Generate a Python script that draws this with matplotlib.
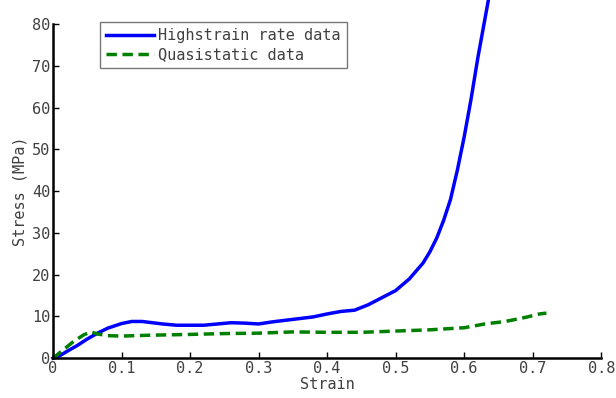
import matplotlib
matplotlib.use('Agg')
import matplotlib.pyplot as plt

# highstrain rate data
hs_strain = [0.0, 0.01, 0.02, 0.035, 0.05, 0.065, 0.08, 0.1, 0.115, 0.13, 0.145, 0.16, 0.18,
             0.2, 0.22, 0.24, 0.26, 0.28, 0.3, 0.32, 0.34, 0.36, 0.38, 0.4, 0.42, 0.44,
             0.46, 0.48, 0.5, 0.52, 0.54, 0.55, 0.56, 0.57, 0.58, 0.59, 0.6,
             0.61, 0.62, 0.63, 0.64]
hs_stress = [0.0, 0.6, 1.6, 3.0, 4.6, 6.0, 7.2, 8.3, 8.8, 8.8, 8.5, 8.2, 7.9,
             7.9, 7.9, 8.2, 8.5, 8.4, 8.2, 8.7, 9.1, 9.5, 9.9, 10.6, 11.2, 11.5,
             12.8, 14.5, 16.2, 19.0, 22.8, 25.5, 28.8, 33.0, 38.0, 45.0, 53.0,
             62.0, 72.0, 81.0, 90.0]

# quasistatic data
qs_strain = [0.0, 0.015, 0.03, 0.045, 0.055, 0.065, 0.08, 0.1, 0.14, 0.2, 0.25, 0.3,
             0.35, 0.4, 0.45, 0.5, 0.55, 0.6, 0.63, 0.66, 0.69, 0.71, 0.72]
qs_stress = [0.0, 2.0, 4.0, 5.6, 6.3, 5.8, 5.4, 5.3, 5.5, 5.7, 5.9, 6.0,
             6.3, 6.2, 6.2, 6.5, 6.8, 7.3, 8.2, 8.8, 9.8, 10.6, 10.8]

xticks = [0, 0.1, 0.2, 0.3, 0.4, 0.5, 0.6, 0.7, 0.8]
xticklabels = ['0', '0.1', '0.2', '0.3', '0.4', '0.5', '0.6', '0.7', '0.8']
yticks = [0, 10, 20, 30, 40, 50, 60, 70, 80]

plt.rcParams['font.family'] = 'DejaVu Sans Mono'

fig = plt.figure(figsize=(6.16, 3.98), dpi=100)
ax = fig.add_axes([0.086, 0.100, 0.890, 0.839])

ax.plot(hs_strain, hs_stress, color='#0000ff', lw=2.5, label='Highstrain rate data',
        clip_on=False)
ax.plot(qs_strain, qs_stress, color='#008000', lw=2.5, ls='--', dashes=(3, 1.6),
        label='Quasistatic data')

ax.set_xlim(0, 0.8)
ax.set_ylim(0, 80)
ax.set_xticks(xticks)
ax.set_xticklabels(xticklabels)
ax.set_yticks(yticks)

for s in ['top', 'right']:
    ax.spines[s].set_visible(False)
for s in ['left', 'bottom']:
    ax.spines[s].set_linewidth(1.8)
    ax.spines[s].set_color('black')

ax.tick_params(direction='in', length=4, width=1, labelsize=11,
               labelcolor='#404040', pad=2)
ax.set_xlabel('Strain', fontsize=11, color='#404040', labelpad=1)
ax.set_ylabel('Stress (MPa)', fontsize=11, color='#404040', labelpad=3)

leg = ax.legend(loc='upper left', bbox_to_anchor=(0.086, 1.006), fontsize=11,
                frameon=True, fancybox=False, handlelength=3.1, handletextpad=0.3,
                borderpad=0.4, labelspacing=0.25, borderaxespad=0.0)
leg.get_frame().set_edgecolor('#555555')
leg.get_frame().set_linewidth(1.0)
for t in leg.get_texts():
    t.set_color('#404040')

fig.savefig('out.png', dpi=100)
